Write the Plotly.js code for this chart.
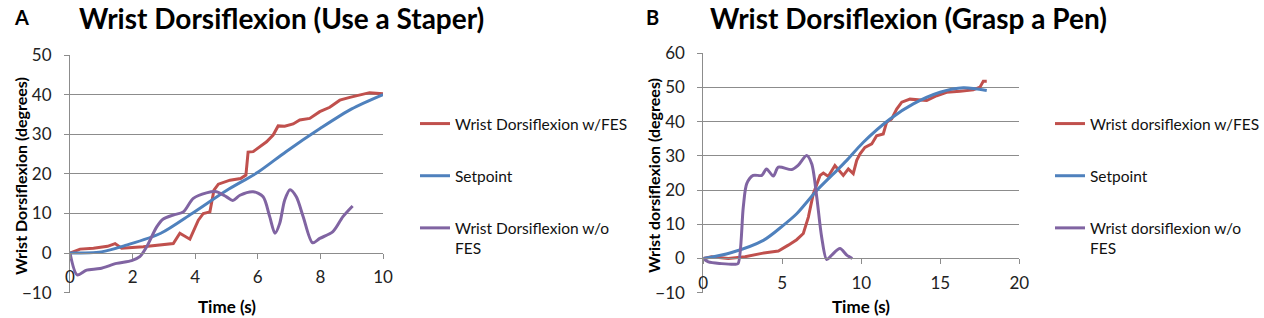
<!DOCTYPE html>
<html>
<head>
<meta charset="utf-8">
<script src="https://cdn.plot.ly/plotly-3.0.1.min.js"></script>
<style>html,body{margin:0;padding:0;background:#fff;overflow:hidden;width:1264px;height:318px;}#chart{width:1264px;height:318px;overflow:hidden;}</style>
</head>
<body>
<div id="chart"></div>
<script>
// ---- Panel A: Wrist Dorsiflexion (Use a Staper) ----
var aFesTime = [0,0.32,0.75,1.2,1.44,1.65,2.34,2.88,3.3,3.51,3.83,4.1,4.26,4.47,4.6,4.74,5.11,5.45,5.62,5.69,5.85,6.28,6.49,6.65,6.86,7.13,7.34,7.66,7.98,8.3,8.62,8.94,9.26,9.57,9.89,10];
var aFes     = [0,1.0,1.2,1.7,2.4,1.2,1.6,2.0,2.4,5.0,3.5,8.3,10,10.4,15.9,17.4,18.4,18.8,19.7,25.5,25.6,28.1,29.8,32.1,32,32.6,33.6,34,35.7,36.8,38.6,39.3,40,40.5,40.3,40.2];
var aSetTime = [0,1,1.8,2.9,3.9,5,6,6.9,8,9,10];
var aSet     = [0,0.3,2,5,10,15.8,20.4,25.6,31.5,36.4,40];
var aNoTime  = [0,0.23,0.53,0.96,1.49,1.97,2.23,2.45,2.77,2.98,3.3,3.62,3.94,4.36,4.68,5.0,5.2,5.43,5.85,6.17,6.38,6.55,6.7,6.86,7.03,7.23,7.45,7.75,7.98,8.4,8.72,9.03];
var aNo      = [0,-5.5,-4.3,-3.9,-2.6,-1.9,-0.9,1.6,6.6,8.6,9.6,10.4,13.8,15.2,15.5,14.2,13.3,14.6,15.5,14.2,9.2,5.0,7.5,13.4,16.0,14.2,9.2,2.6,3.7,5.4,9.2,11.9];
var aNames   = ["Wrist Dorsiflexion w/FES","Setpoint","Wrist Dorsiflexion w/o<br>FES"];
var aTitle   = "Wrist Dorsiflexion (Use a Staper)";
var aYTitle  = "Wrist Dorsiflexion (degrees)";

// ---- Panel B: Wrist Dorsiflexion (Grasp a Pen) ----
var bFesTime = [0,0.53,1.58,2.64,3.7,4.75,5.38,5.91,6.33,6.65,6.96,7.39,7.6,7.91,8.33,8.86,9.18,9.49,9.71,9.92,10.23,10.66,10.97,11.39,11.6,11.92,12.24,12.56,13.08,13.5,14.14,14.77,15.4,16.25,17.09,17.51,17.72,17.94];
var bFes     = [0,0.5,0,0.5,1.5,2.2,3.9,5.5,7.3,12.1,18.9,24.3,25,24,27.2,24.3,26.2,24.8,28.7,30.6,32.5,33.5,35.9,36.4,39.8,40.8,43.7,45.7,46.6,46.4,46.2,47.6,48.6,48.9,49.3,50.1,51.8,51.8];
var bSetTime = [0,1.69,3.8,5.06,5.91,7.18,8.44,9.08,10.13,11.82,13.29,14.99,16.46,17.94];
var bSet     = [0,1.6,5.3,9.7,13.1,19.9,25.7,28.7,34,40.8,45.2,48.6,49.9,49.1];
var bNoTime  = [0,0.32,1.16,2.0,2.2,2.53,2.75,3.16,3.7,4.0,4.43,4.75,5.6,6.0,6.54,6.86,7.18,7.49,7.81,8.13,8.65,9.08,9.43];
var bNo      = [0,-1.0,-1.5,-1.7,-1.5,15,21.9,24.3,24.3,26.2,24.1,26.7,26,27.2,30.1,27.7,18,6.3,-0.3,1.0,2.9,1.0,0];
var bNames   = ["Wrist dorsiflexion w/FES","Setpoint","Wrist dorsiflexion w/o<br>FES"];
var bTitle   = "Wrist Dorsiflexion (Grasp a Pen)";
var bYTitle  = "Wrist dorsiflexion (degrees)";
var xTitle   = "Time (s)";

var colors = ["#C0504D","#4F81BD","#8064A2"];
var W = 1264, H = 318;
function fx(px){return px/W;}
function fy(py){return (H-py)/H;}

function tr(x,y,name,c,xa,ya,leg,grp,shape){
  return {x:x,y:y,name:name,type:"scatter",mode:"lines",xaxis:xa,yaxis:ya,legend:leg,legendgroup:grp,
    line:{color:c,width:3,shape:shape,smoothing:0.8},hoverinfo:"skip"};
}
var data = [
  tr(aFesTime,aFes,aNames[0],colors[0],"x","y","legend","a1","linear"),
  tr(aSetTime,aSet,aNames[1],colors[1],"x","y","legend","a2","spline"),
  tr(aNoTime,aNo,aNames[2],colors[2],"x","y","legend","a3","spline"),
  tr(bFesTime,bFes,bNames[0],colors[0],"x2","y2","legend2","b1","linear"),
  tr(bSetTime,bSet,bNames[1],colors[1],"x2","y2","legend2","b2","spline"),
  tr(bNoTime,bNo,bNames[2],colors[2],"x2","y2","legend2","b3","spline")
];

var grid = "#8c8c8c";
var FONT = "Lato, 'Open Sans', sans-serif";
function yax(rng,dom,anchor){
  return {range:rng,domain:dom,anchor:anchor,dtick:10,showgrid:true,gridcolor:grid,gridwidth:1,zeroline:false,
    showline:true,linecolor:grid,linewidth:1,ticks:"outside",ticklen:5,tickcolor:grid,ticklabelstandoff:9,
    tickfont:{size:17,color:"#222"},fixedrange:true};
}
function xax(rng,dtick,dom,pos){
  return {range:rng,dtick:dtick,domain:dom,anchor:"free",position:pos,
    showgrid:false,zeroline:false,showline:true,linecolor:grid,linewidth:1,ticks:"outside",ticklen:5,tickcolor:grid,
    ticklabelstandoff:4,tickfont:{size:17,color:"#222"},fixedrange:true};
}
function ann(text,px,py,size,angle,xanchor){
  return {text:text,x:fx(px),y:fy(py),xref:"paper",yref:"paper",xanchor:xanchor||"center",yanchor:"middle",
    showarrow:false,textangle:angle||0,font:{size:size,color:"#000",family:FONT}};
}
function leg(px){
  return {x:fx(px),y:fy(107),xanchor:"left",yanchor:"top",traceorder:"grouped",tracegroupgap:29,
    valign:"top",font:{size:15.5,color:"#111",family:FONT},bgcolor:"rgba(0,0,0,0)",borderwidth:0,
    itemclick:false,itemdoubleclick:false};
}

var layout = {
  width:W,height:H,margin:{l:0,r:0,t:0,b:0,pad:0,autoexpand:false},paper_bgcolor:"#fff",plot_bgcolor:"rgba(0,0,0,0)",
  font:{family:FONT,color:"#000"},showlegend:true,
  xaxis:xax([0,10],2,[fx(70),fx(383)],fy(253)),
  yaxis:yax([-10,50],[fy(292.7),fy(55)],"x"),
  xaxis2:xax([0,20],5,[fx(703.3),fx(1019.3)],fy(258.3)),
  yaxis2:yax([-10,60],[fy(292.7),fy(53.3)],"x2"),
  legend:leg(415),
  legend2:leg(1050),
  annotations:[
    ann("<b>A</b>",12,17,20,0,"left"),
    ann("<b>"+aTitle+"</b>",77,18,28,0,"left"),
    ann("<b>B</b>",644,17,20,0,"left"),
    ann("<b>"+bTitle+"</b>",708,18,28,0,"left"),
    ann("<b>"+aYTitle+"</b>",20,176,16,-90),
    ann("<b>"+bYTitle+"</b>",653,176,16,-90),
    ann("<b>"+xTitle+"</b>",226.5,306,17,0),
    ann("<b>"+xTitle+"</b>",861.3,306,17,0)
  ]
};
Plotly.newPlot("chart",data,layout,{staticPlot:true,displayModeBar:false});
</script>
</body>
</html>
